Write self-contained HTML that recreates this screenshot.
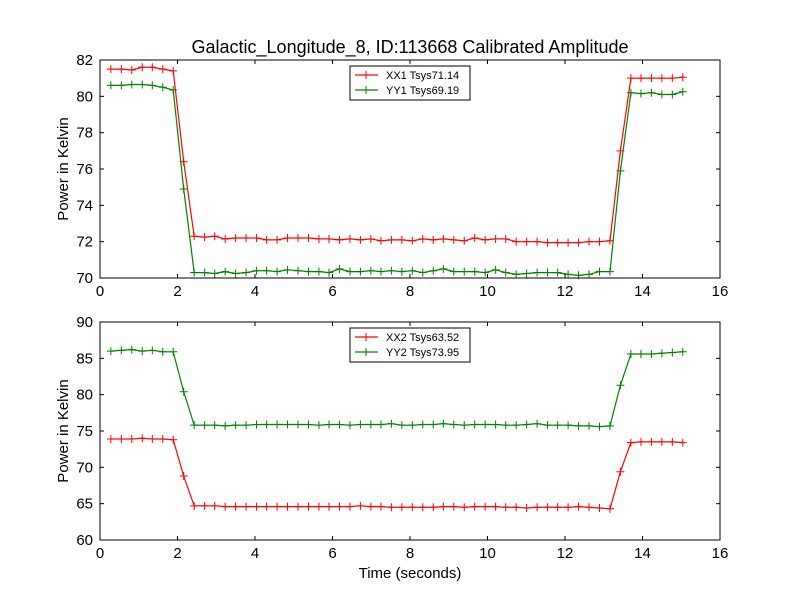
<!DOCTYPE html>
<html><head><meta charset="utf-8"><style>
body{margin:0;background:#fff}
svg{display:block;font-family:"Liberation Sans","DejaVu Sans",sans-serif}
</style></head><body>
<svg id="chart" width="800" height="600" viewBox="0 0 800 600">
<rect x="0" y="0" width="800" height="600" fill="#fff"/>
<text x="410" y="53" font-size="18" text-anchor="middle">Galactic_Longitude_8, ID:113668 Calibrated Amplitude</text>
</svg>
<script>
const times=[0.28,0.55,0.82,1.09,1.35,1.62,1.89,2.16,2.43,2.70,2.96,3.23,3.50,3.77,4.04,4.30,4.57,4.84,5.11,5.38,5.65,5.91,6.18,6.45,6.72,6.99,7.25,7.52,7.79,8.06,8.33,8.60,8.86,9.13,9.40,9.67,9.94,10.21,10.47,10.74,11.01,11.28,11.55,11.81,12.08,12.35,12.62,12.89,13.16,13.43,13.70,13.96,14.23,14.50,14.77,15.04];
const xx1=[81.5,81.5,81.45,81.6,81.6,81.5,81.4,76.4,72.3,72.25,72.3,72.15,72.2,72.2,72.2,72.1,72.1,72.2,72.2,72.2,72.15,72.15,72.1,72.15,72.1,72.15,72.05,72.1,72.1,72.05,72.15,72.1,72.15,72.1,72.05,72.2,72.1,72.15,72.15,72.0,72.0,72.0,71.95,71.95,71.95,71.95,72.0,72.0,72.05,77.0,81.0,81.0,81.0,81.0,81.0,81.05];
const yy1=[80.6,80.6,80.65,80.65,80.6,80.5,80.35,74.9,70.3,70.3,70.25,70.35,70.25,70.3,70.4,70.4,70.35,70.45,70.4,70.35,70.35,70.3,70.5,70.35,70.35,70.4,70.35,70.4,70.35,70.4,70.3,70.4,70.5,70.35,70.35,70.35,70.3,70.45,70.3,70.2,70.25,70.3,70.3,70.3,70.2,70.15,70.2,70.35,70.35,75.9,80.2,80.15,80.2,80.1,80.1,80.25];
const xx2=[73.9,73.9,73.9,74.0,73.9,73.9,73.8,68.8,64.7,64.7,64.7,64.6,64.6,64.6,64.6,64.6,64.6,64.6,64.6,64.6,64.6,64.6,64.6,64.6,64.7,64.6,64.6,64.5,64.5,64.5,64.5,64.5,64.6,64.6,64.5,64.6,64.6,64.6,64.5,64.5,64.4,64.5,64.5,64.5,64.5,64.6,64.5,64.4,64.3,69.4,73.4,73.5,73.5,73.5,73.5,73.4];
const yy2=[86.0,86.1,86.2,86.0,86.1,85.9,85.9,80.4,75.8,75.8,75.8,75.7,75.8,75.8,75.9,75.9,75.9,75.9,75.9,75.9,75.8,75.9,75.9,75.8,75.9,75.9,75.9,76.0,75.8,75.8,75.9,75.9,76.0,75.9,75.8,75.9,75.9,75.9,75.8,75.8,75.9,76.0,75.8,75.8,75.8,75.7,75.7,75.6,75.7,81.3,85.6,85.6,85.6,85.7,85.8,85.9];
const xTicks=[0,2,4,6,8,10,12,14,16];
const yTicksTop=[70,72,74,76,78,80,82];
const yTicksBot=[60,65,70,75,80,85,90];
const legendTop=["XX1 Tsys71.14","YY1 Tsys69.19"];
const legendBot=["XX2 Tsys63.52","YY2 Tsys73.95"];

const svg=document.getElementById('chart');
const NS='http://www.w3.org/2000/svg';
function mk(tag,attrs,parent){const e=document.createElementNS(NS,tag);for(const k in attrs)e.setAttribute(k,attrs[k]);(parent||svg).appendChild(e);return e;}

function panel(top,bottom,ymin,ymax,yTicks,series,legend,name,showXLabel){
  const L=100,R=720;
  const g=mk('g',{});
  
  
  const sx=t=>L+(t-0)/(16-0)*(R-L);
  const sy=v=>bottom-(v-ymin)/(ymax-ymin)*(bottom-top);
  // series
  series.forEach(s=>{
    const sg=mk('g',{},g);
    
    
    const pts=s.data.map((v,i)=>sx(times[i]).toFixed(1)+','+sy(v).toFixed(1)).join(' ');
    mk('polyline',{points:pts,fill:'none',stroke:s.color,'stroke-width':1.2},sg);
    let d='';
    s.data.forEach((v,i)=>{const x=sx(times[i]),y=sy(v);d+=`M${x-4},${y}H${x+4}M${x},${y-4}V${y+4}`;});
    mk('path',{d:d,stroke:s.color,'stroke-width':1,fill:'none'},sg);
  });
  // frame
  const fr=mk('rect',{x:L,y:top,width:R-L,height:bottom-top,fill:'none',stroke:'#000','stroke-width':1},g);
  
  
  // x ticks
  xTicks.forEach(t=>{
    const x=sx(t);
    mk('line',{x1:x,x2:x,y1:bottom,y2:bottom-4,stroke:'#000'},g);
    mk('line',{x1:x,x2:x,y1:top,y2:top+4,stroke:'#000'},g);
    const tx=mk('text',{x:x,y:bottom+18,'font-size':15,'text-anchor':'middle'},g);
    tx.textContent=t;
    
    
  });
  yTicks.forEach(v=>{
    const y=sy(v);
    mk('line',{x1:L,x2:L+4,y1:y,y2:y,stroke:'#000'},g);
    mk('line',{x1:R,x2:R-4,y1:y,y2:y,stroke:'#000'},g);
    const tx=mk('text',{x:L-7,y:y+5,'font-size':15,'text-anchor':'end'},g);
    tx.textContent=v;
    
    
  });
  const yl=mk('text',{x:0,y:0,'font-size':15,'text-anchor':'middle',transform:`translate(68,${(top+bottom)/2}) rotate(-90)`},g);
  yl.textContent='Power in Kelvin';
  
  
  if(showXLabel){
    const xl=mk('text',{x:(L+R)/2,y:bottom+38,'font-size':15,'text-anchor':'middle'},g);
    xl.textContent='Time (seconds)';
    
    
  }
  // legend
  const lg=mk('g',{},g);
  
  
  mk('rect',{x:350,y:top+6,width:120,height:34,fill:'#fff',stroke:'#000','stroke-width':1},lg);
  legend.forEach((txt,i)=>{
    const y=top+15+i*15,c=series[i].color;
    const e=mk('g',{},lg);
    
    
    mk('line',{x1:355,x2:378,y1:y,y2:y,stroke:c,'stroke-width':1.2},e);
    mk('path',{d:`M362,${y}h8M366,${y-4}v8`,stroke:c},e);
    const t=mk('text',{x:386,y:y+4,'font-size':11},e);
    t.textContent=txt;
  });
}
panel(60,278,70,82,yTicksTop,[{name:'xx1-line',color:'#ff0000',data:xx1},{name:'yy1-line',color:'#008000',data:yy1}],legendTop,'top-panel',false);
panel(322,540,60,90,yTicksBot,[{name:'xx2-line',color:'#ff0000',data:xx2},{name:'yy2-line',color:'#008000',data:yy2}],legendBot,'bottom-panel',true);
</script>
</body></html>
